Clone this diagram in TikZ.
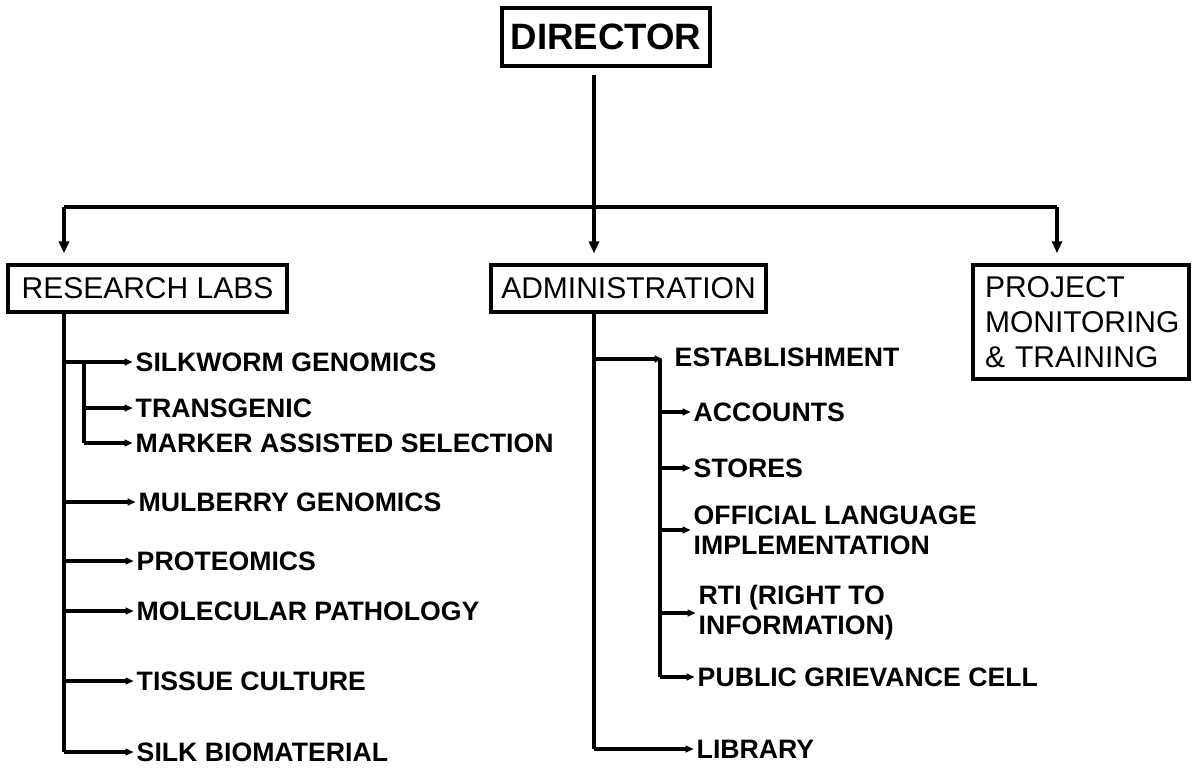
\documentclass[tikz,border=0pt]{standalone}
\usepackage{fontspec}
\setmainfont{Liberation Sans}
\usetikzlibrary{arrows.meta,positioning}

\begin{document}
\begin{tikzpicture}[x=0.75pt,y=-0.75pt,line width=2.6pt,
                    >={Triangle[length=6pt,width=5pt]}]
  \tikzstyle{unit}=[rectangle,draw=black,line width=2.6pt,inner sep=0pt,
                    font=\fontsize{22.5}{26}\selectfont]
  \tikzstyle{item}=[anchor=west,inner sep=0pt,align=left,
                    font=\bfseries\fontsize{20}{22.5}\selectfont]
  \tikzstyle{down}=[->,>={Triangle[length=9pt,width=7.5pt]},shorten >=7.5pt]

  \useasboundingbox (0,0) rectangle (1192,769);

  % top level
  \node[unit,minimum width=156pt,minimum height=43.5pt,
        font=\bfseries\fontsize{27.5}{30}\selectfont] (dir) at (606,37) {DIRECTOR};
  \node[unit,minimum width=209pt,minimum height=35pt] (lab) at (147.5,288.5) {RESEARCH LABS};
  \node[unit,minimum width=206pt,minimum height=35pt] (adm) at (628.5,288.5) {ADMINISTRATION};
  \node[unit,minimum width=162pt,minimum height=85.5pt,align=left,
        text width=144pt] (pmt) at (1081,322) {PROJECT\\MONITORING\\\& TRAINING};

  \coordinate (dirfoot) at (594,75);
  \coordinate (barL) at (64,207);
  \coordinate (barC) at (594,207);
  \coordinate (barR) at (1057,207);

  \draw (barL) -- (barR);
  \draw[down] (dirfoot) -- (dirfoot |- adm.north);
  \draw[down] (barL) -- (barL |- lab.north);
  \draw[down] (barR) -- (barR |- pmt.north);

  % research labs
  \node[item] (sgen) at (134,362) {SILKWORM GENOMICS};
  \node[item] (tra)  at (134,408) {TRANSGENIC};
  \node[item] (mas)  at (134,443) {MARKER ASSISTED SELECTION};
  \node[item] (mul)  at (137,502) {MULBERRY GENOMICS};
  \node[item] (pro)  at (135,561) {PROTEOMICS};
  \node[item] (mol)  at (135,611) {MOLECULAR PATHOLOGY};
  \node[item] (tis)  at (135,681) {TISSUE CULTURE};
  \node[item] (silk) at (135,752) {SILK BIOMATERIAL};

  \coordinate (sub) at (84,362);

  \draw (lab.south -| barL) -- (barL |- silk.west);
  \foreach \n in {sgen,mul,pro,mol,tis,silk}
    \draw[->,shorten >=1pt] (barL |- \n.west) -- (\n.west);
  \draw (sub) -- (sub |- mas.west);
  \foreach \n in {tra,mas}
    \draw[->,shorten >=1pt] (sub |- \n.west) -- (\n.west);

  % administration
  \node[item] (est) at (673,357) {ESTABLISHMENT};
  \node[item] (acc) at (692,412) {ACCOUNTS};
  \node[item] (sto) at (692,468) {STORES};
  \node[item] (ofl) at (692,530) {OFFICIAL LANGUAGE\\IMPLEMENTATION};
  \node[item] (rti) at (697,613) {RTI (RIGHT TO\\INFORMATION)};
  \node[item] (pub) at (696,677) {PUBLIC GRIEVANCE CELL};
  \node[item] (lib) at (695,749) {LIBRARY};

  \coordinate (estin) at (660,359);

  \draw (adm.south -| barC) -- (barC |- lib.west);
  \draw[->] (barC |- estin) -- ([xshift=2pt]estin);
  \draw (estin) -- (estin |- pub.west);
  \foreach \n in {acc,sto,ofl,rti,pub}
    \draw[->,shorten >=1pt] (estin |- \n.west) -- (\n.west);
  \draw[->,shorten >=1pt] (barC |- lib.west) -- (lib.west);
\end{tikzpicture}
\end{document}
